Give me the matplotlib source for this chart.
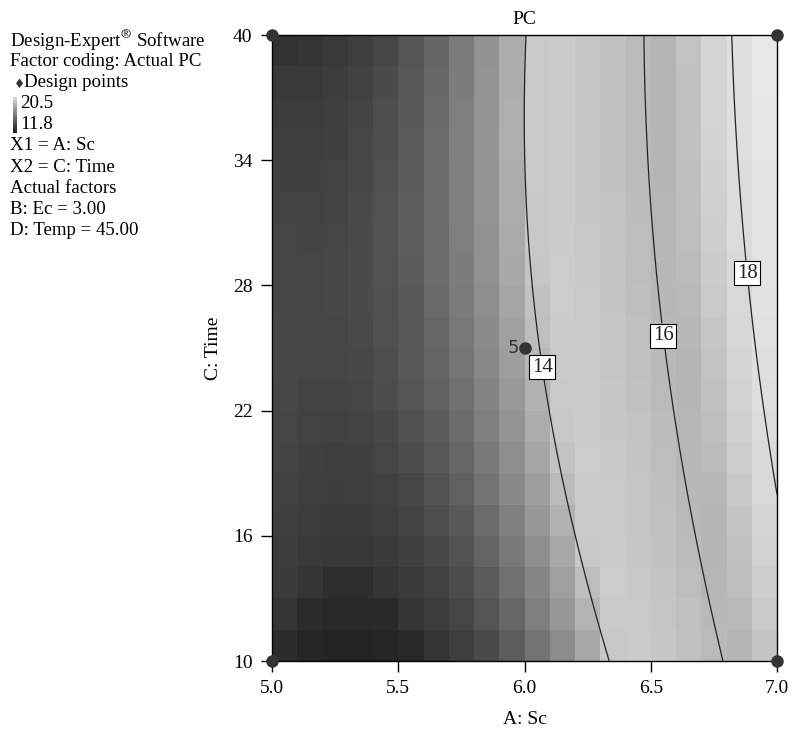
import numpy as np
import matplotlib
matplotlib.use("Agg")
import matplotlib.pyplot as plt
from matplotlib.colors import LinearSegmentedColormap

plt.rcParams['font.family'] = ['Liberation Serif', 'DejaVu Serif']
plt.rcParams['mathtext.fontset'] = 'stix'

# Fitted quadratic model for PC in coded units
# a = (Sc - 6.0) / 1.0, c = (Time - 25) / 15
coef_names = ['b0', 'A', 'C', 'AC', 'A2', 'C2']
coef_values = [13.82, 2.92, 0.497, 0.50, 1.80, -0.337]

sc_range = [5.0, 7.0]
time_range = [10.0, 40.0]
n_cells = 20

contour_levels = [14, 16, 18]
legend_range = [11.8, 20.5]

# gray level seen in the picture for a given PC value
shade_values = [11.8, 12.2, 12.35, 12.4, 12.6, 12.75, 12.92, 13.17, 13.45, 13.77,
                14.1, 14.4, 15.0, 15.5, 16.0, 16.4, 17.0, 17.5, 18.2, 18.9, 20.5]
shade_grays = [30, 34, 44, 54, 66, 78, 92, 116, 140, 168,
               200, 204, 198, 192, 184, 180, 196, 212, 224, 232, 240]

design_sc = [5.0, 5.0, 7.0, 7.0, 6.0]
design_time = [10.0, 40.0, 10.0, 40.0, 25.0]

x_ticks = [5.0, 5.5, 6.0, 6.5, 7.0]
y_ticks = [10, 16, 22, 28, 34, 40]

legend_lines = ["Design-Expert$^{\\circledR}$ Software", "Factor coding: Actual PC",
                "Design points", "20.5", "11.8", "X1 = A: Sc", "X2 = C: Time",
                "Actual factors", "B: Ec = 3.00", "D: Temp = 45.00"]


def model(sc, t):
    a = (sc - 6.0) / 1.0
    c = (t - 25.0) / 15.0
    b0, b1, b2, b12, b11, b22 = coef_values
    return b0 + b1 * a + b2 * c + b12 * a * c + b11 * a ** 2 + b22 * c ** 2


lo, hi = legend_range
pos = [(v - lo) / (hi - lo) for v in shade_values]
cols = [(g / 255, g / 255, g / 255) for g in shade_grays]
cmap = LinearSegmentedColormap.from_list('de_gray', list(zip(pos, cols)), N=512)

fig = plt.figure(figsize=(7.94, 7.36), dpi=100)
ax = fig.add_axes([0.3426, 0.1019, 0.636, 0.8505])

# shaded cells
xe = np.linspace(sc_range[0], sc_range[1], n_cells + 1)
ye = np.linspace(time_range[0], time_range[1], n_cells + 1)
xc = (xe[:-1] + xe[1:]) / 2
yc = (ye[:-1] + ye[1:]) / 2
XC, YC = np.meshgrid(xc, yc)
ax.pcolormesh(xe, ye, model(XC, YC), cmap=cmap, vmin=lo, vmax=hi, shading='flat')

# contour lines
xf = np.linspace(sc_range[0], sc_range[1], 300)
yf = np.linspace(time_range[0], time_range[1], 300)
XF, YF = np.meshgrid(xf, yf)
cs = ax.contour(XF, YF, model(XF, YF), levels=contour_levels, colors='#222222', linewidths=0.9)
labels = ax.clabel(cs, fmt='%d', fontsize=15, inline=True, inline_spacing=2,
                   manual=[(6.08, 24.1), (6.55, 25.6), (6.89, 28.6)])
for t in labels:
    t.set_rotation(0)
    t.set_bbox(dict(boxstyle='square,pad=0.12', facecolor='white', edgecolor='black', linewidth=0.8))

# design points
ax.plot(design_sc, design_time, 'o', color='#333333', markersize=8, clip_on=False, zorder=5)
ax.text(design_sc[4] - 0.02, design_time[4], '5', ha='right', va='center', fontsize=13,
        family=['Liberation Sans Narrow', 'DejaVu Sans'], color='#333333')

ax.set_xlim(sc_range)
ax.set_ylim(time_range)
ax.set_xticks(x_ticks)
ax.set_xticklabels(['%.1f' % v for v in x_ticks])
ax.set_yticks(y_ticks)
ax.tick_params(direction='out', length=8, width=1, labelsize=14, pad=6)
ax.set_xlabel('A: Sc', fontsize=14, labelpad=10)
ax.set_ylabel('C: Time', fontsize=14, labelpad=8)
ax.set_title('PC', fontsize=14, pad=8)
for s in ax.spines.values():
    s.set_linewidth(1.0)

# left info block
y0 = 736 - 40
step = 21.2
for i, line in enumerate(legend_lines):
    x = 10
    if i == 2:
        x = 24
    if i in (3, 4):
        x = 20
    fig.text(x / 794, (y0 - i * step) / 736, line, fontsize=13.6, va='center', ha='left')
fig.text(14 / 794, (y0 - 2 * step - 2) / 736, '\u2666', fontsize=9, va='center', ha='left',
         family=['DejaVu Sans'], color='#333333')
bar = fig.add_axes([13 / 794, (736 - 133) / 736, 4 / 794, 36 / 736])
bar.imshow(np.linspace(1, 0, 50).reshape(-1, 1), cmap='gray', vmin=-0.15, vmax=1.2, aspect='auto')
bar.axis('off')

plt.savefig('out.png', dpi=100)
plt.close()
